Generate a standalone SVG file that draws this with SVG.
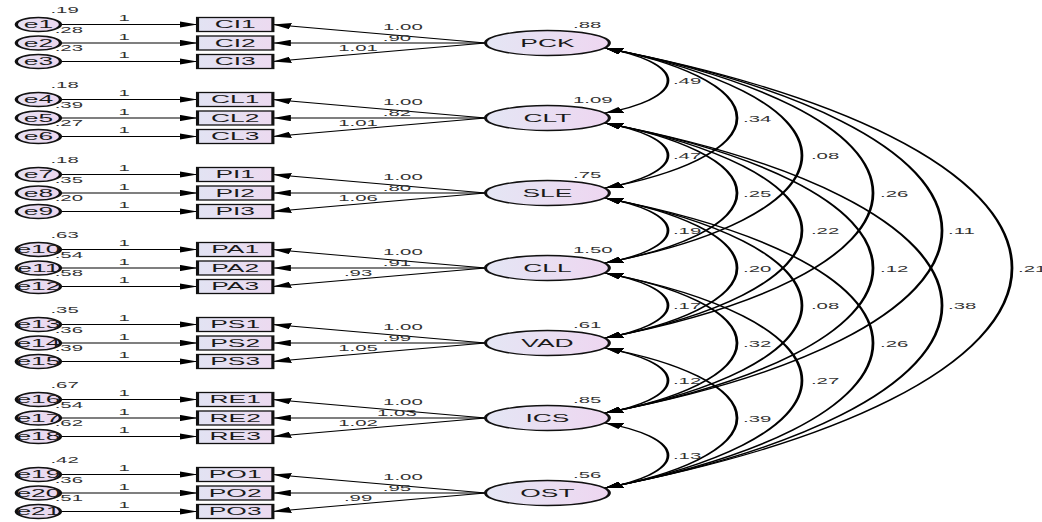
<svg xmlns="http://www.w3.org/2000/svg" width="1042" height="522" viewBox="0 0 1042 522">
<style>
.c{stroke:#000;stroke-width:1;fill:none}
.a{stroke:#000;stroke-width:1.15;fill:none}
.box{fill:url(#gb);stroke:#111;stroke-width:1.3}
.lat{fill:url(#gf);stroke:#111;stroke-width:1.3}
.err{fill:url(#ge);stroke:#111;stroke-width:1.4}
.nm{font-family:"Liberation Sans",Arial,sans-serif;font-size:11px;fill:#1a1a1a;text-anchor:middle}
.n{font-family:"Liberation Sans",Arial,sans-serif;font-size:8.5px;fill:#333}
.m{text-anchor:middle}
</style>
<defs>
<linearGradient id="gf" x1="0" y1="0" x2="1" y2="0"><stop offset="0" stop-color="#e4e6f4"/><stop offset="1" stop-color="#eed6f0"/></linearGradient>
<linearGradient id="gb" x1="0" y1="0" x2="1" y2="0"><stop offset="0" stop-color="#e2e3f3"/><stop offset="1" stop-color="#ecdaf0"/></linearGradient>
<linearGradient id="ge" x1="0" y1="0" x2="1" y2="0"><stop offset="0" stop-color="#e6e2f4"/><stop offset="1" stop-color="#ecd6ee"/></linearGradient>
<marker id="ah" viewBox="0 0 7.5 6.4" refX="7.5" refY="3.2" markerWidth="7.5" markerHeight="6.4" markerUnits="userSpaceOnUse" orient="auto-start-reverse"><path d="M0,0 L7.5,3.2 L0,6.4 z" fill="#000"/></marker>
</defs>
<g transform="scale(2.4,1)">
<g id="connectors">
<g id="error-paths">
<line class="c" x1="25.3" y1="24.5" x2="82.3" y2="24.5" marker-end="url(#ah)"/>
<line class="c" x1="25.3" y1="43" x2="82.3" y2="43" marker-end="url(#ah)"/>
<line class="c" x1="25.3" y1="61.5" x2="82.3" y2="61.5" marker-end="url(#ah)"/>
<line class="c" x1="25.3" y1="99.5" x2="82.3" y2="99.5" marker-end="url(#ah)"/>
<line class="c" x1="25.3" y1="118" x2="82.3" y2="118" marker-end="url(#ah)"/>
<line class="c" x1="25.3" y1="136.5" x2="82.3" y2="136.5" marker-end="url(#ah)"/>
<line class="c" x1="25.3" y1="174.5" x2="82.3" y2="174.5" marker-end="url(#ah)"/>
<line class="c" x1="25.3" y1="193" x2="82.3" y2="193" marker-end="url(#ah)"/>
<line class="c" x1="25.3" y1="211.5" x2="82.3" y2="211.5" marker-end="url(#ah)"/>
<line class="c" x1="25.3" y1="249.5" x2="82.3" y2="249.5" marker-end="url(#ah)"/>
<line class="c" x1="25.3" y1="268" x2="82.3" y2="268" marker-end="url(#ah)"/>
<line class="c" x1="25.3" y1="286.5" x2="82.3" y2="286.5" marker-end="url(#ah)"/>
<line class="c" x1="25.3" y1="324.5" x2="82.3" y2="324.5" marker-end="url(#ah)"/>
<line class="c" x1="25.3" y1="343" x2="82.3" y2="343" marker-end="url(#ah)"/>
<line class="c" x1="25.3" y1="361.5" x2="82.3" y2="361.5" marker-end="url(#ah)"/>
<line class="c" x1="25.3" y1="399.5" x2="82.3" y2="399.5" marker-end="url(#ah)"/>
<line class="c" x1="25.3" y1="418" x2="82.3" y2="418" marker-end="url(#ah)"/>
<line class="c" x1="25.3" y1="436.5" x2="82.3" y2="436.5" marker-end="url(#ah)"/>
<line class="c" x1="25.3" y1="474.5" x2="82.3" y2="474.5" marker-end="url(#ah)"/>
<line class="c" x1="25.3" y1="493" x2="82.3" y2="493" marker-end="url(#ah)"/>
<line class="c" x1="25.3" y1="511.5" x2="82.3" y2="511.5" marker-end="url(#ah)"/>
</g>
<g id="loadings">
<line class="c" x1="202.3" y1="43" x2="113.7" y2="24.5" marker-end="url(#ah)"/>
<line class="c" x1="202.3" y1="43" x2="113.7" y2="43" marker-end="url(#ah)"/>
<line class="c" x1="202.3" y1="43" x2="113.7" y2="61.5" marker-end="url(#ah)"/>
<line class="c" x1="202.3" y1="118" x2="113.7" y2="99.5" marker-end="url(#ah)"/>
<line class="c" x1="202.3" y1="118" x2="113.7" y2="118" marker-end="url(#ah)"/>
<line class="c" x1="202.3" y1="118" x2="113.7" y2="136.5" marker-end="url(#ah)"/>
<line class="c" x1="202.3" y1="193" x2="113.7" y2="174.5" marker-end="url(#ah)"/>
<line class="c" x1="202.3" y1="193" x2="113.7" y2="193" marker-end="url(#ah)"/>
<line class="c" x1="202.3" y1="193" x2="113.7" y2="211.5" marker-end="url(#ah)"/>
<line class="c" x1="202.3" y1="268" x2="113.7" y2="249.5" marker-end="url(#ah)"/>
<line class="c" x1="202.3" y1="268" x2="113.7" y2="268" marker-end="url(#ah)"/>
<line class="c" x1="202.3" y1="268" x2="113.7" y2="286.5" marker-end="url(#ah)"/>
<line class="c" x1="202.3" y1="343" x2="113.7" y2="324.5" marker-end="url(#ah)"/>
<line class="c" x1="202.3" y1="343" x2="113.7" y2="343" marker-end="url(#ah)"/>
<line class="c" x1="202.3" y1="343" x2="113.7" y2="361.5" marker-end="url(#ah)"/>
<line class="c" x1="202.3" y1="418" x2="113.7" y2="399.5" marker-end="url(#ah)"/>
<line class="c" x1="202.3" y1="418" x2="113.7" y2="418" marker-end="url(#ah)"/>
<line class="c" x1="202.3" y1="418" x2="113.7" y2="436.5" marker-end="url(#ah)"/>
<line class="c" x1="202.3" y1="493" x2="113.7" y2="474.5" marker-end="url(#ah)"/>
<line class="c" x1="202.3" y1="493" x2="113.7" y2="493" marker-end="url(#ah)"/>
<line class="c" x1="202.3" y1="493" x2="113.7" y2="511.5" marker-end="url(#ah)"/>
</g>
<g id="covariances">
<path class="a" d="M252.08,48 A58.7,39 0 0 1 252.08,113" marker-start="url(#ah)" marker-end="url(#ah)"/>
<path class="a" d="M252.08,123 A58.7,39 0 0 1 252.08,188" marker-start="url(#ah)" marker-end="url(#ah)"/>
<path class="a" d="M252.08,198 A58.7,39 0 0 1 252.08,263" marker-start="url(#ah)" marker-end="url(#ah)"/>
<path class="a" d="M252.08,273 A58.7,39 0 0 1 252.08,338" marker-start="url(#ah)" marker-end="url(#ah)"/>
<path class="a" d="M252.08,348 A58.7,39 0 0 1 252.08,413" marker-start="url(#ah)" marker-end="url(#ah)"/>
<path class="a" d="M252.08,423 A58.7,39 0 0 1 252.08,488" marker-start="url(#ah)" marker-end="url(#ah)"/>
<path class="a" d="M252.08,48 A123,84 0 0 1 252.08,188" marker-start="url(#ah)" marker-end="url(#ah)"/>
<path class="a" d="M252.08,123 A123,84 0 0 1 252.08,263" marker-start="url(#ah)" marker-end="url(#ah)"/>
<path class="a" d="M252.08,198 A123,84 0 0 1 252.08,338" marker-start="url(#ah)" marker-end="url(#ah)"/>
<path class="a" d="M252.08,273 A123,84 0 0 1 252.08,413" marker-start="url(#ah)" marker-end="url(#ah)"/>
<path class="a" d="M252.08,348 A123,84 0 0 1 252.08,488" marker-start="url(#ah)" marker-end="url(#ah)"/>
<path class="a" d="M252.08,48 A183.5,129 0 0 1 252.08,263" marker-start="url(#ah)" marker-end="url(#ah)"/>
<path class="a" d="M252.08,123 A183.5,129 0 0 1 252.08,338" marker-start="url(#ah)" marker-end="url(#ah)"/>
<path class="a" d="M252.08,198 A183.5,129 0 0 1 252.08,413" marker-start="url(#ah)" marker-end="url(#ah)"/>
<path class="a" d="M252.08,273 A183.5,129 0 0 1 252.08,488" marker-start="url(#ah)" marker-end="url(#ah)"/>
<path class="a" d="M252.08,48 A249.7,174 0 0 1 252.08,338" marker-start="url(#ah)" marker-end="url(#ah)"/>
<path class="a" d="M252.08,123 A249.7,174 0 0 1 252.08,413" marker-start="url(#ah)" marker-end="url(#ah)"/>
<path class="a" d="M252.08,198 A249.7,174 0 0 1 252.08,488" marker-start="url(#ah)" marker-end="url(#ah)"/>
<path class="a" d="M252.08,48 A314,219 0 0 1 252.08,413" marker-start="url(#ah)" marker-end="url(#ah)"/>
<path class="a" d="M252.08,123 A314,219 0 0 1 252.08,488" marker-start="url(#ah)" marker-end="url(#ah)"/>
<path class="a" d="M252.08,48 A379.2,264 0 0 1 252.08,488" marker-start="url(#ah)" marker-end="url(#ah)"/>
</g>
</g>
<g id="labels">
<g id="path-one-labels" class="n m">
<text x="51.7" y="21.5">1</text><text x="51.7" y="40">1</text><text x="51.7" y="58.5">1</text>
<text x="51.7" y="96.5">1</text><text x="51.7" y="115">1</text><text x="51.7" y="133.5">1</text>
<text x="51.7" y="171.5">1</text><text x="51.7" y="190">1</text><text x="51.7" y="208.5">1</text>
<text x="51.7" y="246.5">1</text><text x="51.7" y="265">1</text><text x="51.7" y="283.5">1</text>
<text x="51.7" y="321.5">1</text><text x="51.7" y="340">1</text><text x="51.7" y="358.5">1</text>
<text x="51.7" y="396.5">1</text><text x="51.7" y="415">1</text><text x="51.7" y="433.5">1</text>
<text x="51.7" y="471.5">1</text><text x="51.7" y="490">1</text><text x="51.7" y="508.5">1</text>
</g>
<g id="loading-labels" class="n m">
<text x="167.9" y="30">1.00</text><text x="165.4" y="41">.90</text><text x="149.2" y="51.5">1.01</text>
<text x="167.9" y="105">1.00</text><text x="165.4" y="116">.82</text><text x="149.2" y="126.5">1.01</text>
<text x="167.9" y="180">1.00</text><text x="165.4" y="191">.80</text><text x="149.2" y="201.5">1.06</text>
<text x="167.9" y="255">1.00</text><text x="165.4" y="266">.91</text><text x="149.2" y="276.5">.93</text>
<text x="167.9" y="330">1.00</text><text x="165.4" y="341">.99</text><text x="149.2" y="351.5">1.05</text>
<text x="167.9" y="405">1.00</text><text x="165.4" y="416">1.03</text><text x="149.2" y="426.5">1.02</text>
<text x="167.9" y="480">1.00</text><text x="165.4" y="491">.95</text><text x="149.2" y="501.5">.99</text>
</g>
<g id="covariance-labels" class="n">
<text x="280.4" y="84.5">.49</text><text x="280.4" y="159.5">.47</text><text x="280.4" y="234.5">.19</text><text x="280.4" y="309.5">.17</text><text x="280.4" y="384.5">.12</text><text x="280.4" y="459.5">.13</text>
<text x="309.6" y="122">.34</text><text x="309.6" y="197">.25</text><text x="309.6" y="272">.20</text><text x="309.6" y="347">.32</text><text x="309.6" y="422">.39</text>
<text x="337.9" y="159.5">.08</text><text x="337.9" y="234.5">.22</text><text x="337.9" y="309.5">.08</text><text x="337.9" y="384.5">.27</text>
<text x="366.7" y="197">.26</text><text x="366.7" y="272">.12</text><text x="366.7" y="347">.26</text>
<text x="395" y="234.5">.11</text><text x="395" y="309.5">.38</text>
<text x="424.2" y="272">.21</text>
</g>
<g id="error-variances" class="n">
<text x="21" y="13.5">.19</text><text x="22.8" y="33">.28</text><text x="22.8" y="51.5">.23</text>
<text x="21" y="88.5">.18</text><text x="22.8" y="108">.39</text><text x="22.8" y="126.5">.27</text>
<text x="21" y="163.5">.18</text><text x="22.8" y="183">.35</text><text x="22.8" y="201.5">.20</text>
<text x="21" y="238.5">.63</text><text x="22.8" y="258">.54</text><text x="22.8" y="276.5">.58</text>
<text x="21" y="313.5">.35</text><text x="22.8" y="333">.36</text><text x="22.8" y="351.5">.39</text>
<text x="21" y="388.5">.67</text><text x="22.8" y="408">.54</text><text x="22.8" y="426.5">.62</text>
<text x="21" y="463.5">.42</text><text x="22.8" y="483">.36</text><text x="22.8" y="501.5">.51</text>
</g>
</g>
<g id="errors">
<g id="e1"><ellipse class="err" cx="16" cy="24.5" rx="9.2" ry="7"/><text class="nm" x="16" y="28.5">e1</text></g>
<g id="e2"><ellipse class="err" cx="16" cy="43" rx="9.2" ry="7"/><text class="nm" x="16" y="47">e2</text></g>
<g id="e3"><ellipse class="err" cx="16" cy="61.5" rx="9.2" ry="7"/><text class="nm" x="16" y="65.5">e3</text></g>
<g id="e4"><ellipse class="err" cx="16" cy="99.5" rx="9.2" ry="7"/><text class="nm" x="16" y="103.5">e4</text></g>
<g id="e5"><ellipse class="err" cx="16" cy="118" rx="9.2" ry="7"/><text class="nm" x="16" y="122">e5</text></g>
<g id="e6"><ellipse class="err" cx="16" cy="136.5" rx="9.2" ry="7"/><text class="nm" x="16" y="140.5">e6</text></g>
<g id="e7"><ellipse class="err" cx="16" cy="174.5" rx="9.2" ry="7"/><text class="nm" x="16" y="178.5">e7</text></g>
<g id="e8"><ellipse class="err" cx="16" cy="193" rx="9.2" ry="7"/><text class="nm" x="16" y="197">e8</text></g>
<g id="e9"><ellipse class="err" cx="16" cy="211.5" rx="9.2" ry="7"/><text class="nm" x="16" y="215.5">e9</text></g>
<g id="e10"><ellipse class="err" cx="16" cy="249.5" rx="9.2" ry="7"/><text class="nm" x="16" y="253.5">e10</text></g>
<g id="e11"><ellipse class="err" cx="16" cy="268" rx="9.2" ry="7"/><text class="nm" x="16" y="272">e11</text></g>
<g id="e12"><ellipse class="err" cx="16" cy="286.5" rx="9.2" ry="7"/><text class="nm" x="16" y="290.5">e12</text></g>
<g id="e13"><ellipse class="err" cx="16" cy="324.5" rx="9.2" ry="7"/><text class="nm" x="16" y="328.5">e13</text></g>
<g id="e14"><ellipse class="err" cx="16" cy="343" rx="9.2" ry="7"/><text class="nm" x="16" y="347">e14</text></g>
<g id="e15"><ellipse class="err" cx="16" cy="361.5" rx="9.2" ry="7"/><text class="nm" x="16" y="365.5">e15</text></g>
<g id="e16"><ellipse class="err" cx="16" cy="399.5" rx="9.2" ry="7"/><text class="nm" x="16" y="403.5">e16</text></g>
<g id="e17"><ellipse class="err" cx="16" cy="418" rx="9.2" ry="7"/><text class="nm" x="16" y="422">e17</text></g>
<g id="e18"><ellipse class="err" cx="16" cy="436.5" rx="9.2" ry="7"/><text class="nm" x="16" y="440.5">e18</text></g>
<g id="e19"><ellipse class="err" cx="16" cy="474.5" rx="9.2" ry="7"/><text class="nm" x="16" y="478.5">e19</text></g>
<g id="e20"><ellipse class="err" cx="16" cy="493" rx="9.2" ry="7"/><text class="nm" x="16" y="497">e20</text></g>
<g id="e21"><ellipse class="err" cx="16" cy="511.5" rx="9.2" ry="7"/><text class="nm" x="16" y="515.5">e21</text></g>
</g>
<g id="indicators">
<g id="CI1"><rect class="box" x="82.3" y="17.5" width="31.4" height="14"/><text class="nm" x="98" y="28.5">CI1</text></g>
<g id="CI2"><rect class="box" x="82.3" y="36" width="31.4" height="14"/><text class="nm" x="98" y="47">CI2</text></g>
<g id="CI3"><rect class="box" x="82.3" y="54.5" width="31.4" height="14"/><text class="nm" x="98" y="65.5">CI3</text></g>
<g id="CL1"><rect class="box" x="82.3" y="92.5" width="31.4" height="14"/><text class="nm" x="98" y="103.5">CL1</text></g>
<g id="CL2"><rect class="box" x="82.3" y="111" width="31.4" height="14"/><text class="nm" x="98" y="122">CL2</text></g>
<g id="CL3"><rect class="box" x="82.3" y="129.5" width="31.4" height="14"/><text class="nm" x="98" y="140.5">CL3</text></g>
<g id="PI1"><rect class="box" x="82.3" y="167.5" width="31.4" height="14"/><text class="nm" x="98" y="178.5">PI1</text></g>
<g id="PI2"><rect class="box" x="82.3" y="186" width="31.4" height="14"/><text class="nm" x="98" y="197">PI2</text></g>
<g id="PI3"><rect class="box" x="82.3" y="204.5" width="31.4" height="14"/><text class="nm" x="98" y="215.5">PI3</text></g>
<g id="PA1"><rect class="box" x="82.3" y="242.5" width="31.4" height="14"/><text class="nm" x="98" y="253.5">PA1</text></g>
<g id="PA2"><rect class="box" x="82.3" y="261" width="31.4" height="14"/><text class="nm" x="98" y="272">PA2</text></g>
<g id="PA3"><rect class="box" x="82.3" y="279.5" width="31.4" height="14"/><text class="nm" x="98" y="290.5">PA3</text></g>
<g id="PS1"><rect class="box" x="82.3" y="317.5" width="31.4" height="14"/><text class="nm" x="98" y="328.5">PS1</text></g>
<g id="PS2"><rect class="box" x="82.3" y="336" width="31.4" height="14"/><text class="nm" x="98" y="347">PS2</text></g>
<g id="PS3"><rect class="box" x="82.3" y="354.5" width="31.4" height="14"/><text class="nm" x="98" y="365.5">PS3</text></g>
<g id="RE1"><rect class="box" x="82.3" y="392.5" width="31.4" height="14"/><text class="nm" x="98" y="403.5">RE1</text></g>
<g id="RE2"><rect class="box" x="82.3" y="411" width="31.4" height="14"/><text class="nm" x="98" y="422">RE2</text></g>
<g id="RE3"><rect class="box" x="82.3" y="429.5" width="31.4" height="14"/><text class="nm" x="98" y="440.5">RE3</text></g>
<g id="PO1"><rect class="box" x="82.3" y="467.5" width="31.4" height="14"/><text class="nm" x="98" y="478.5">PO1</text></g>
<g id="PO2"><rect class="box" x="82.3" y="486" width="31.4" height="14"/><text class="nm" x="98" y="497">PO2</text></g>
<g id="PO3"><rect class="box" x="82.3" y="504.5" width="31.4" height="14"/><text class="nm" x="98" y="515.5">PO3</text></g>
</g>
<g id="factors">
<g id="PCK"><ellipse class="lat" cx="228.1" cy="43" rx="25.8" ry="12.5"/><text class="nm" x="228.1" y="47">PCK</text><text class="n" x="238.75" y="28">.88</text></g>
<g id="CLT"><ellipse class="lat" cx="228.1" cy="118" rx="25.8" ry="12.5"/><text class="nm" x="228.1" y="122">CLT</text><text class="n" x="238.75" y="103">1.09</text></g>
<g id="SLE"><ellipse class="lat" cx="228.1" cy="193" rx="25.8" ry="12.5"/><text class="nm" x="228.1" y="197">SLE</text><text class="n" x="238.75" y="178">.75</text></g>
<g id="CLL"><ellipse class="lat" cx="228.1" cy="268" rx="25.8" ry="12.5"/><text class="nm" x="228.1" y="272">CLL</text><text class="n" x="238.75" y="253">1.50</text></g>
<g id="VAD"><ellipse class="lat" cx="228.1" cy="343" rx="25.8" ry="12.5"/><text class="nm" x="228.1" y="347">VAD</text><text class="n" x="238.75" y="328">.61</text></g>
<g id="ICS"><ellipse class="lat" cx="228.1" cy="418" rx="25.8" ry="12.5"/><text class="nm" x="228.1" y="422">ICS</text><text class="n" x="238.75" y="403">.85</text></g>
<g id="OST"><ellipse class="lat" cx="228.1" cy="493" rx="25.8" ry="12.5"/><text class="nm" x="228.1" y="497">OST</text><text class="n" x="238.75" y="478">.56</text></g>
</g>
</g>
</svg>
